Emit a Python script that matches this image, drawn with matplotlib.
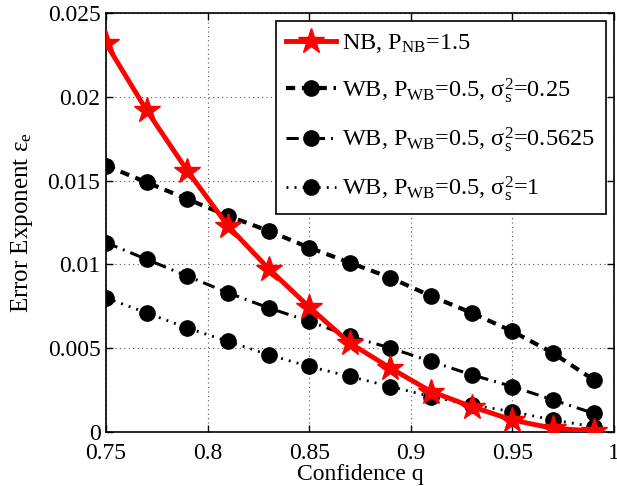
import matplotlib
matplotlib.use("Agg")
import matplotlib.pyplot as plt

plt.rcParams['font.family'] = ['Liberation Serif', 'DejaVu Serif']
plt.rcParams['mathtext.fontset'] = 'custom'
plt.rcParams['mathtext.rm'] = 'Liberation Serif'
plt.rcParams['mathtext.it'] = 'Liberation Serif:italic'

q = [0.75, 0.77, 0.79, 0.81, 0.83, 0.85, 0.87, 0.89, 0.91, 0.93, 0.95, 0.97, 0.99]
nb_15 = [0.0232, 0.0192, 0.0156, 0.0123, 0.00975, 0.00745, 0.0053, 0.0038, 0.0024,
         0.0015, 0.0007, 0.0002, 0.00005]
wb_025 = [0.0159, 0.0149, 0.0139, 0.0129, 0.0120, 0.0110, 0.0101, 0.0092, 0.0081,
          0.0071, 0.0060, 0.0047, 0.0031]
wb_05625 = [0.0113, 0.0103, 0.0093, 0.0083, 0.0074, 0.0066, 0.0057, 0.0050, 0.0042,
            0.0034, 0.0027, 0.0019, 0.0011]
wb_1 = [0.0080, 0.0071, 0.0062, 0.0054, 0.0046, 0.0039, 0.0033, 0.0027, 0.0021,
        0.0016, 0.0012, 0.0007, 0.0003]

labels = [r'NB, P$_{\mathrm{NB}}$=1.5',
          r'WB, P$_{\mathrm{WB}}$=0.5, $\mathrm{σ}_{\mathrm{s}}^{2}$=0.25',
          r'WB, P$_{\mathrm{WB}}$=0.5, $\mathrm{σ}_{\mathrm{s}}^{2}$=0.5625',
          r'WB, P$_{\mathrm{WB}}$=0.5, $\mathrm{σ}_{\mathrm{s}}^{2}$=1']
xticks = [0.75, 0.8, 0.85, 0.9, 0.95, 1]
xticklabels = ['0.75', '0.8', '0.85', '0.9', '0.95', '1']
yticks = [0, 0.005, 0.01, 0.015, 0.02, 0.025]
yticklabels = ['0', '0.005', '0.01', '0.015', '0.02', '0.025']

fig = plt.figure(figsize=(6.17, 4.86), dpi=100)
ax = fig.add_axes([0.1718, 0.1117, 0.8233, 0.8609])

ax.plot(q, nb_15, color='red', lw=3.5, marker='*', ms=19, label=labels[0], zorder=5)
ax.plot(q, wb_025, color='black', lw=3, ls=(0, (2.2, 1.6)), marker='o', ms=11,
        label=labels[1], zorder=4)
ax.plot(q, wb_05625, color='black', lw=2.2, ls=(0, (4, 2, 0.6, 2)), marker='o', ms=11,
        label=labels[2], zorder=4)
ax.plot(q, wb_1, color='black', lw=2, ls=(0, (0.7, 2.2)), marker='o', ms=11,
        label=labels[3], zorder=4)

ax.set_xlim(0.75, 1)
ax.set_ylim(0, 0.025)
ax.set_xticks(xticks)
ax.set_xticklabels(xticklabels)
ax.set_yticks(yticks)
ax.set_yticklabels(yticklabels)
ax.tick_params(direction='in', top=True, right=True, labelsize=17, length=5, width=1)
ax.tick_params(axis='x', pad=8)
ax.tick_params(axis='y', pad=4)
ax.grid(True, ls=(0, (1, 3)), color='#555555', lw=0.8)
for s in ax.spines.values():
    s.set_linewidth(1.2)

ax.set_xlabel('Confidence q', fontsize=17, labelpad=0)
ax.set_ylabel(r'Error Exponent $\mathrm{ε}_{\mathrm{e}}$', fontsize=18, labelpad=9)

leg = ax.legend(loc='upper right', fontsize=17.5, frameon=True, fancybox=False,
                edgecolor='black', framealpha=1, handlelength=2.05, handletextpad=0.25,
                labelspacing=0.85, borderpad=0.45, borderaxespad=0.33)
leg.get_frame().set_linewidth(1.2)

fig.savefig('out.png', dpi=100)
